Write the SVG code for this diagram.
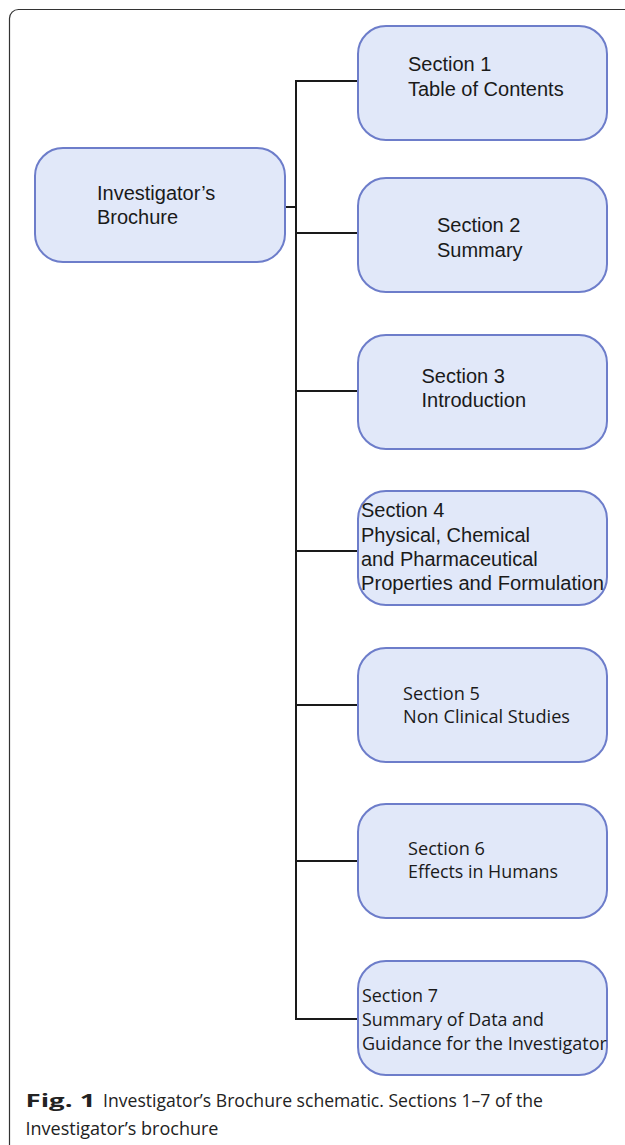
<svg xmlns="http://www.w3.org/2000/svg" width="625" height="1145" viewBox="0 0 625 1145">
<style>
.box{fill:#e1e8f9;stroke:#6d7dca;stroke-width:2}
.a{font-family:"Liberation Sans",Arial,sans-serif;font-size:20px;fill:#1a1a1a}
.m{font-family:"Open Sans","Noto Sans",sans-serif;font-size:18.5px;fill:#1a1a1a}
.c{font-family:"Open Sans","Noto Sans",sans-serif;font-size:18px;fill:#222}
.ln{fill:none;stroke:#1a1a1a;stroke-width:2}
</style>
<rect x="9.5" y="9.5" width="640" height="1150" rx="9" fill="#fff" stroke="#333" stroke-width="1.2"/>
<g id="connectors">
<polyline class="ln" points="357,81 296,81 296,1019 358,1019"/>
<line class="ln" x1="285" y1="207" x2="296" y2="207"/>
<line class="ln" x1="296" y1="233" x2="358" y2="233"/>
<line class="ln" x1="296" y1="391" x2="358" y2="391"/>
<line class="ln" x1="296" y1="551" x2="358" y2="551"/>
<line class="ln" x1="296" y1="705" x2="358" y2="705"/>
<line class="ln" x1="296" y1="861" x2="358" y2="861"/>
</g>
<g id="ib">
<rect class="box" x="35" y="148" width="250" height="114" rx="28"/>
<text class="a"><tspan x="97" y="200">Investigator’s</tspan><tspan x="97" y="224">Brochure</tspan></text>
</g>
<g id="s1">
<rect class="box" x="358" y="26" width="249" height="114" rx="28"/>
<text class="a"><tspan x="408" y="71">Section 1</tspan><tspan x="408" y="96">Table of Contents</tspan></text>
</g>
<g id="s2">
<rect class="box" x="358" y="178" width="249" height="114" rx="28"/>
<text class="a"><tspan x="437" y="232">Section 2</tspan><tspan x="437" y="257">Summary</tspan></text>
</g>
<g id="s3">
<rect class="box" x="358" y="335" width="249" height="114" rx="28"/>
<text class="a"><tspan x="421.5" y="383">Section 3</tspan><tspan x="421.5" y="407">Introduction</tspan></text>
</g>
<g id="s4">
<rect class="box" x="358" y="491" width="249" height="114" rx="28"/>
<text class="a"><tspan x="361" y="517">Section 4</tspan><tspan x="361" y="542">Physical, Chemical</tspan><tspan x="361" y="566">and Pharmaceutical</tspan><tspan x="361" y="590" textLength="243" lengthAdjust="spacingAndGlyphs">Properties and Formulation</tspan></text>
</g>
<g id="s5">
<rect class="box" x="358" y="648" width="249" height="114" rx="28"/>
<text class="m"><tspan x="403" y="700" textLength="77" lengthAdjust="spacingAndGlyphs">Section 5</tspan><tspan x="403" y="723" textLength="167" lengthAdjust="spacingAndGlyphs">Non Clinical Studies</tspan></text>
</g>
<g id="s6">
<rect class="box" x="358" y="804" width="249" height="114" rx="28"/>
<text class="m"><tspan x="408" y="855" textLength="77" lengthAdjust="spacingAndGlyphs">Section 6</tspan><tspan x="408" y="878" textLength="150" lengthAdjust="spacingAndGlyphs">Effects in Humans</tspan></text>
</g>
<g id="s7">
<rect class="box" x="358" y="961" width="249" height="114" rx="28"/>
<text class="m"><tspan x="362" y="1002" textLength="76" lengthAdjust="spacingAndGlyphs">Section 7</tspan><tspan x="362" y="1026" textLength="182" lengthAdjust="spacingAndGlyphs">Summary of Data and</tspan><tspan x="362" y="1050" textLength="245" lengthAdjust="spacingAndGlyphs">Guidance for the Investigator</tspan></text>
</g>
<g id="caption">
<text class="c" x="25.5" y="1107"><tspan font-weight="bold" textLength="70" lengthAdjust="spacingAndGlyphs">Fig. 1</tspan><tspan x="103" textLength="440" lengthAdjust="spacingAndGlyphs">Investigator’s Brochure schematic. Sections 1–7 of the</tspan></text>
<text class="c" x="25.5" y="1135" textLength="193" lengthAdjust="spacingAndGlyphs">Investigator’s brochure</text>
</g>
</svg>
